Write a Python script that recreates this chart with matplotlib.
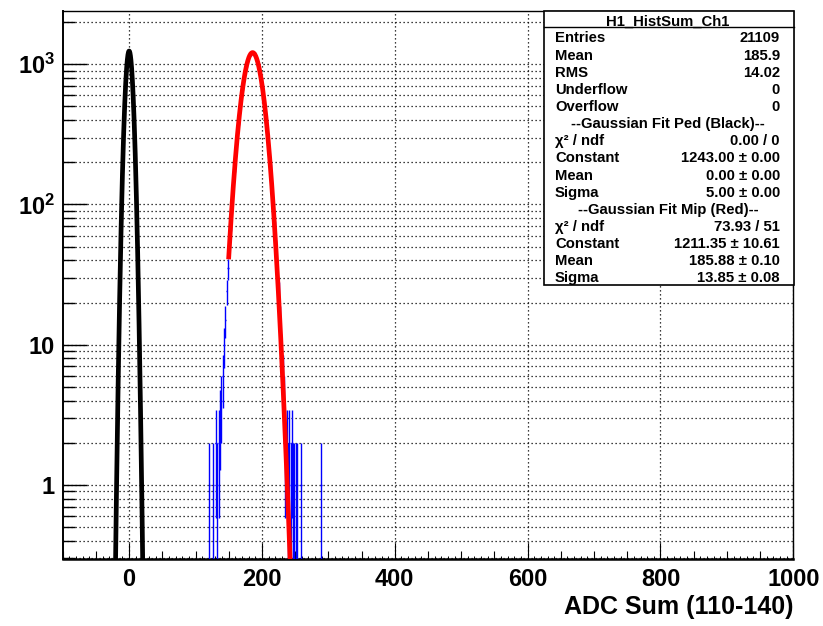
import numpy as np
import matplotlib.pyplot as plt
from matplotlib.patches import Rectangle
from matplotlib.lines import Line2D
from matplotlib.ticker import MultipleLocator, LogLocator, FuncFormatter, NullFormatter

plt.rcParams['font.family'] = ['Liberation Sans', 'DejaVu Sans']
plt.rcParams['font.weight'] = 'bold'
plt.rcParams['mathtext.fontset'] = 'custom'
plt.rcParams['mathtext.rm'] = 'Liberation Sans:bold'
plt.rcParams['mathtext.it'] = 'Liberation Sans:bold'
plt.rcParams['mathtext.bf'] = 'Liberation Sans:bold'

# histogram H1_HistSum_Ch1 (bin width 2), nonzero bins only
bin_centers = np.array([121, 127, 131, 133, 135, 137, 139, 141, 143, 145, 147, 149,
                        151, 153, 155, 157, 159, 161, 163, 165, 167, 169, 171, 173,
                        175, 177, 179, 181, 183, 185, 187, 189, 191, 193, 195, 197,
                        199, 201, 203, 205, 207, 209, 211, 213, 215, 217, 219, 221,
                        223, 225, 227, 229, 231, 233, 235, 237, 239, 241, 243, 245,
                        247, 249, 251, 253, 259, 289])
counts = np.array([1, 1, 2, 1, 2, 3, 4, 6, 10, 15, 24, 35,
                   50, 73, 101, 136, 185, 242, 307, 390, 476, 578, 678, 788,
                   887, 988, 1069, 1140, 1183, 1212, 1205, 1184, 1128, 1063, 972, 879,
                   771, 669, 562, 469, 376, 303, 232, 180, 131, 98, 68, 49,
                   33, 23, 15, 9, 6, 4, 2, 2, 1, 2, 1, 2,
                   1, 1, 1, 1, 1, 1])

# fit parameters: constant, mean, sigma
ped_fit = [1243.00, 0.00, 5.00]
mip_fit = [1211.35, 185.88, 13.85]
ped_range = [-30, 30]
mip_range = [150, 250]

stat_labels = ['Entries', 'Mean', 'RMS', 'Underflow', 'Overflow',
               '--Gaussian Fit Ped (Black)--', 'χ² / ndf', 'Constant', 'Mean', 'Sigma',
               '--Gaussian Fit Mip (Red)--', 'χ² / ndf', 'Constant', 'Mean', 'Sigma']
stat_values = ['21109', '185.9', '14.02', '0', '0',
               None, '0.00 / 0', '1243.00 ± 0.00', '0.00 ± 0.00', '5.00 ± 0.00',
               None, '73.93 / 51', '1211.35 ± 10.61', '185.88 ± 0.10', '13.85 ± 0.08']


def gaus(x, p):
    return p[0] * np.exp(-0.5 * ((x - p[1]) / p[2]) ** 2)


W, H = 823, 626
fig = plt.figure(figsize=(W / 100, H / 100), dpi=100)
ax = fig.add_axes([62.7 / W, 1 - 559.3 / H, (793.3 - 62.7) / W, (559.3 - 10.7) / H])
ax.set_yscale('log')
ax.set_xlim(-100, 1000)
ax.set_ylim(0.295, 2410)

# grid (ROOT style dotted)
ax.grid(True, which='major', axis='x', color='black', ls=(0, (1, 2.2)), lw=0.9)
ax.grid(True, which='both', axis='y', color='black', ls=(0, (1, 2.2)), lw=0.9)
ax.set_axisbelow(True)

# blue histogram with error bars
err = np.sqrt(counts)
lo = np.clip(counts - err, 1e-3, None)
ax.vlines(bin_centers, lo, counts + err, colors='blue', lw=1.0, zorder=3)
ax.hlines(counts, bin_centers - 1, bin_centers + 1, colors='blue', lw=1.0, zorder=3)

# fit functions
xp = np.linspace(ped_range[0], ped_range[1], 600)
ax.plot(xp, gaus(xp, ped_fit), color='black', lw=3.4, zorder=4)
xm = np.linspace(mip_range[0], mip_range[1], 600)
ax.plot(xm, gaus(xm, mip_fit), color='red', lw=3.4, zorder=4)

# ticks
ax.xaxis.set_major_locator(MultipleLocator(200))
ax.xaxis.set_minor_locator(MultipleLocator(50))
ax.yaxis.set_major_locator(LogLocator(base=10))
ax.yaxis.set_minor_locator(LogLocator(base=10, subs=np.arange(2, 10)))


def ylab(v, pos):
    if v < 5:
        return '1'
    if v < 50:
        return '10'
    return r'$10^{%d}$' % int(round(np.log10(v)))


ax.yaxis.set_major_formatter(FuncFormatter(ylab))
ax.yaxis.set_minor_formatter(NullFormatter())
ax.tick_params(axis='x', which='major', direction='in', length=11.5, width=0.8,
               labelsize=17, pad=6.5)
ax.tick_params(axis='x', which='minor', direction='in', length=5.8, width=0.8)
ax.tick_params(axis='y', which='major', direction='in', length=17.3, width=1.0,
               labelsize=17, pad=5.5)
ax.tick_params(axis='y', which='minor', direction='in', length=8.6, width=1.0)
ax.tick_params(top=False, right=False)

# tertiary ticks every 10
xt = np.arange(-100, 1001, 10)
ax.vlines(xt, 0, 0.006, transform=ax.get_xaxis_transform(), colors='black', lw=0.7)

for s in ax.spines.values():
    s.set_linewidth(1.0)
ax.spines['left'].set_linewidth(1.4)
ax.spines['bottom'].set_linewidth(1.8)

ax.set_xlabel('ADC Sum (110-140)', fontsize=18, fontweight='bold')
ax.xaxis.set_label_coords(1.0, -(607 - 559.3) / (559.3 - 10.7))
ax.xaxis.label.set_ha('right')
ax.xaxis.label.set_va('center')

# stats box
bx0, bx1 = 544 / W, 794 / W
by0, by1 = 1 - 285 / H, 1 - 10.7 / H
fig.add_artist(Rectangle((bx0, by0), bx1 - bx0, by1 - by0, transform=fig.transFigure,
                         facecolor='white', edgecolor='black', lw=1.2, zorder=10))
fig.add_artist(Line2D([bx0, bx1], [1 - 27.3 / H, 1 - 27.3 / H], transform=fig.transFigure,
                      color='black', lw=1.0, zorder=11))
fs = 10.7
fig.text(668 / W, 1 - 20 / H, 'H1_HistSum_Ch1', ha='center', va='center_baseline',
         fontsize=fs, zorder=12)
for i, (lab, val) in enumerate(zip(stat_labels, stat_values)):
    y = 1 - (37 + 17.14 * i) / H
    if val is None:
        fig.text(668 / W, y, lab, ha='center', va='center_baseline', fontsize=fs, zorder=12)
    else:
        fig.text(555 / W, y, lab, ha='left', va='center_baseline', fontsize=fs, zorder=12)
        fig.text(780 / W, y, val, ha='right', va='center_baseline', fontsize=fs, zorder=12)

fig.savefig('out.png', dpi=100)
